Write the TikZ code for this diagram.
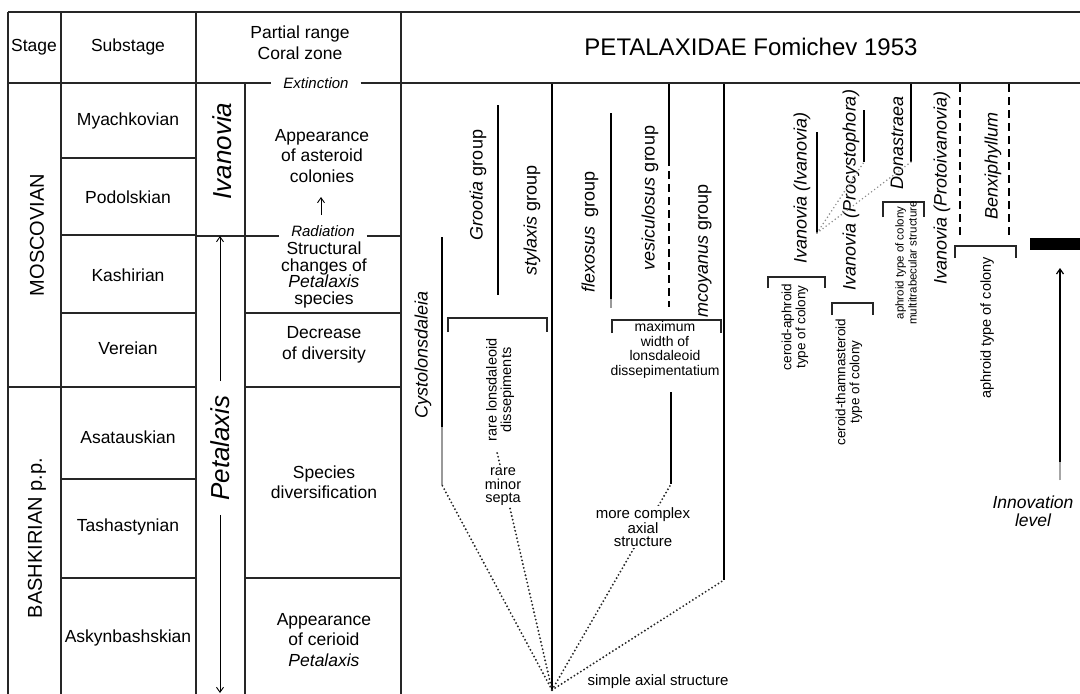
\documentclass[tikz,border=0pt]{standalone}
\usepackage{fontspec}
\setmainfont{Liberation Sans}
\usetikzlibrary{arrows.meta}
\newcommand\fsz[2]{\fontsize{#1}{#2}\selectfont}
\begin{document}
\begin{tikzpicture}[x=1pt,y=-1pt,
  rule/.style={line width=1.1pt,black!85},
  lineage/.style={line width=2.5pt,black},
  faded/.style={line width=2.5pt,black!40},
  dashedlineage/.style={line width=2.2pt,dash pattern=on 8pt off 5pt},
  bracket/.style={line width=1.5pt,black!85},
  dotlink/.style={line width=2.1pt,dash pattern=on 0pt off 3.8pt,line cap=round,black!85},
  faintlink/.style={dotlink,line width=1.7pt,black!45},
  tip/.style={-{Straight Barb[length=5pt,width=7pt]},line width=0.9pt},
  txt/.style={font=\fsz{17.5}{20.5},align=center,inner sep=1pt},
  taxon/.style={font=\fsz{18}{21},inner sep=1pt,rotate=90},
  big/.style={font=\fsz{26}{30}\itshape,inner sep=1pt,rotate=90},
  note/.style={font=\fsz{14.5}{14.5},align=center,inner sep=1pt},
  tiny/.style={font=\fsz{11.5}{13},align=center,inner sep=1pt},
  event/.style={font=\fsz{15}{17}\itshape,inner ysep=1pt,inner xsep=12pt},
]
\useasboundingbox (0,0) rectangle (1080,694);
\fill[white] (0,0) rectangle (1080,694);

% ---------- stratigraphic table ----------
\draw[rule] (8,12) -- (1080,12);
\draw[rule] (8,12) -- (8,694);
\draw[rule] (61,12) -- (61,694);
\draw[rule] (196,12) -- (196,694);
\draw[rule] (245,83) -- (245,694);
\draw[rule] (401,12) -- (401,694);

% substage boundaries
\foreach \y in {158,235,313,387,479,578} \draw[rule] (61,\y) -- (196,\y);
\draw[rule] (8,387) -- (61,387);
% coral zone boundaries
\foreach \y in {313,387,578} \draw[rule] (245,\y) -- (401,\y);

% header texts
\node[txt] (hstage) at (34,47) {Stage};
\node[txt] (hsub) at (128,47) {Substage};
\node[txt,font=\fsz{17.5}{21}] (hzone) at (300,43) {Partial range\\Coral zone};
\node[font=\fsz{24}{28}] (title) at (751,47) {PETALAXIDAE Fomichev 1953};

% extinction level
\node[event] (ext) at (316,83) {Extinction};
\draw[rule] (8,83) -- (ext.west);
\draw[rule] (ext.east) -- (1080,83);

% radiation level
\node[event] (rad) at (323,231) {Radiation};
\draw[rule] (196,236) -- (rad.west |- 0,236);
\draw[rule] (rad.east |- 0,236) -- (401,236);

% stages
\node[taxon,font=\fsz{20}{24}] (moscow) at (37,235) {MOSCOVIAN};
\node[taxon,font=\fsz{20}{24}] (bashk) at (37,538) {BASHKIRIAN p.p.};

% substages
\node[txt] (s1) at (128,121) {Myachkovian};
\node[txt] (s2) at (128,197) {Podolskian};
\node[txt] (s3) at (128,275) {Kashirian};
\node[txt] (s4) at (128,348) {Vereian};
\node[txt] (s5) at (128,437) {Asatauskian};
\node[txt] (s6) at (128,527) {Tashastynian};
\node[txt] (s7) at (128,638) {Askynbashskian};

% genus ranges
\node[big] (ivan) at (222,151) {Ivanovia};
\node[big,inner xsep=14pt] (petax) at (220,448) {Petalaxis};
\coordinate (ptop) at (220,236);
\coordinate (pbot) at (220,693);
\draw[tip] (petax.east) -- (ptop);
\draw[tip] (petax.west) -- (pbot);

% coral zones
\node[txt] (z1) at (322,156) {Appearance\\of asteroid\\colonies};
\coordinate (rad-foot) at (321,215);
\coordinate (rad-head) at (321,197);
\draw[tip] (rad-foot) -- (rad-head);
\node[txt,font=\fsz{17.5}{16.7}] (z2) at (324,275) {Structural\\changes of\\\textit{Petalaxis}\\species};
\node[txt] (z3) at (324,345) {Decrease\\of diversity};
\node[txt] (z4) at (324,482) {Species\\diversification};
\node[txt] (z5) at (324,640) {Appearance\\of cerioid\\\textit{Petalaxis}};

% ---------- phylogeny ----------
\coordinate (apex) at (552,690);

% Cystolonsdaleia
\coordinate (cys-top) at (442,237);
\coordinate (cys-mid) at (442,427);
\coordinate (cys-base) at (442,485);
\draw[lineage] (cys-top) -- (cys-mid);
\draw[faded] (cys-mid) -- (cys-base);
\node[taxon] (cys) at (423,355) {\itshape Cystolonsdaleia};

% Grootia group
\coordinate (gro-top) at (498,105);
\coordinate (gro-base) at (498,295);
\draw[lineage] (gro-top) -- (gro-base);
\node[taxon] (gro) at (478,185) {\textit{Grootia} group};

% stylaxis group
\coordinate (sty-top) at (552,84);
\draw[lineage] (sty-top) -- (apex);
\node[taxon] (sty) at (532,220) {\textit{stylaxis} group};

% rare lonsdaleoid dissepiments
\draw[bracket] (448,332) -- (448,318) -- (547,318) -- (547,332);
\node[note,rotate=90] (rld) at (500,390) {rare lonsdaleoid\\dissepiments};
\coordinate (rld-foot) at (497,452);

% flexosus group
\coordinate (flx-top) at (611,113);
\coordinate (flx-base) at (611,299);
\draw[lineage] (flx-top) -- (flx-base);
\draw[faded] (flx-base) -- (611,308);
\node[taxon] (flx) at (590,232) {\textit{flexosus}\enspace group};

% vesiculosus group
\coordinate (ves-top) at (669,84);
\coordinate (ves-mid) at (669,158);
\coordinate (ves-base) at (669,307);
\draw[lineage] (ves-top) -- (ves-mid);
\draw[dashedlineage] (ves-mid) -- (ves-base);
\node[taxon] (ves) at (650,198) {\textit{vesiculosus} group};

% mcoyanus group
\coordinate (mco-top) at (724,84);
\coordinate (mco-base) at (724,580);
\draw[lineage] (mco-top) -- (mco-base);
\node[taxon] (mco) at (705,251) {\textit{mcoyanus} group};

% maximum width of dissepimentarium
\draw[bracket] (612,333) -- (612,320) -- (721,320) -- (721,333);
\node[note,font=\fsz{14}{14.6}] (maxw) at (665,350) {maximum\\width of\\lonsdaleoid\\dissepimentatium};

% stem below the bracket
\coordinate (stem-top) at (671,392);
\coordinate (stem-base) at (671,484);
\draw[lineage] (stem-top) -- (stem-base);

% dotted links to the common root
\draw[dotlink] (apex) -- (cys-base);
\draw[dotlink] (apex) -- (rld-foot);
\draw[dotlink] (apex) -- (stem-base);
\draw[dotlink] (apex) -- (mco-base);
\node[note,font=\fsz{14.5}{13.5},fill=white] (septa) at (503,487) {rare\\minor\\septa};
\node[note,font=\fsz{15}{13.5},fill=white] (cax) at (643,527) {more complex\\axial\\structure};
\node[note,font=\fsz{15}{17}] (sax) at (658,682) {simple axial structure};

% Ivanovia subgenera
\coordinate (ii-top) at (817,132);
\coordinate (ii-base) at (817,233);
\draw[lineage] (ii-top) -- (ii-base);
\node[taxon] (ii) at (802,188) {\itshape Ivanovia (Ivanovia)};

\coordinate (ip-top) at (864,110);
\coordinate (ip-base) at (864,162);
\draw[lineage] (ip-top) -- (ip-base);
\node[taxon] (ip) at (851,190) {\itshape Ivanovia (Procystophora)};

\coordinate (don-top) at (911,84);
\coordinate (don-base) at (911,162);
\draw[lineage] (don-top) -- (don-base);
\node[taxon] (don) at (897,143) {\itshape Donastraea};

\draw[faintlink] (ii-base) -- (ip-base);
\draw[faintlink] (ii-base) -- (don-base);

\draw[bracket] (768,288) -- (768,277) -- (825,277) -- (825,288);
\node[note,font=\fsz{13.5}{14},rotate=90] (cac) at (795,327) {ceroid-aphroid\\type of colony};

\draw[bracket] (832,315) -- (832,303) -- (873,303) -- (873,315);
\node[note,font=\fsz{13.5}{14},rotate=90] (ctc) at (849,382) {ceroid-thamnasteroid\\type of colony};

\draw[bracket] (883,217) -- (883,202) -- (924,202) -- (924,217);
\node[tiny,rotate=90] (amt) at (906,263) {aphroid type of colony\\multitrabecular structure};

\node[taxon] (ipr) at (942,188) {\itshape Ivanovia (Protoivanovia)};

% Benxiphyllum
\draw[dashedlineage] (960,84) -- (960,237);
\draw[dashedlineage] (1009,84) -- (1009,237);
\node[taxon] (benx) at (993,166) {\itshape Benxiphyllum};

\draw[bracket] (955,258) -- (955,246) -- (1016,246) -- (1016,258);
\node[note,rotate=90] (atc) at (987,328) {aphroid type of colony};

% innovation level
\fill (1030,238) rectangle (1080,250);
\coordinate (inn-base) at (1060,480);
\coordinate (inn-top) at (1060,268);
\draw[tip,line width=1.2pt] (inn-base) -- (inn-top);
\draw[line width=2pt,black!35] (1060,462) -- (inn-base);
\node[txt,font=\fsz{17.5}{18}\itshape] (inn) at (1033,511) {Innovation\\level};
\end{tikzpicture}
\end{document}
